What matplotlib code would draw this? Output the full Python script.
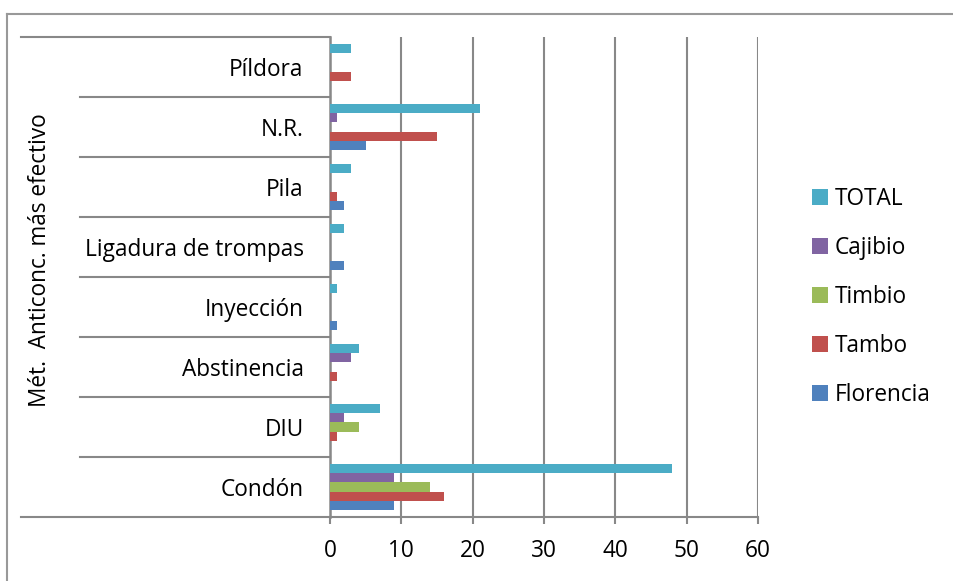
import matplotlib
matplotlib.use("Agg")
import matplotlib.pyplot as plt
import matplotlib.transforms as mtransforms
from matplotlib.lines import Line2D
from matplotlib.patches import Patch
import numpy as np

categories = ["Condón", "DIU", "Abstinencia", "Inyección",
              "Ligadura de trompas", "Pila", "N.R.", "Píldora"]
series_names = ["Florencia", "Tambo", "Timbio", "Cajibio", "TOTAL"]
florencia = [9, 0, 0, 1, 2, 2, 5, 0]
tambo = [16, 1, 1, 0, 0, 1, 15, 3]
timbio = [14, 4, 0, 0, 0, 0, 0, 0]
cajibio = [9, 2, 3, 0, 0, 0, 1, 0]
total = [48, 7, 4, 1, 2, 3, 21, 3]
x_ticks = [0, 10, 20, 30, 40, 50, 60]
axis_title = "Mét.  Anticonc. más efectivo"

colors = ["#4F81BD", "#C0504D", "#9BBB59", "#8064A2", "#4BACC6"]
series = [florencia, tambo, timbio, cajibio, total]

plt.rcParams['font.family'] = ['Open Sans', 'DejaVu Sans']
FS = 16.3
W, H = 954, 581
fig = plt.figure(figsize=(W / 100, H / 100), dpi=100)
ax = fig.add_axes([330 / W, 1 - 517 / H, (758 - 330) / W, (517 - 37) / H])

y = np.arange(len(categories))
bh = 0.155
for i, (vals, c) in enumerate(zip(series, colors)):
    ax.barh(y + (i - 2) * bh, vals, height=bh, color=c, edgecolor='none', zorder=3)

ax.set_xlim(0, 60)
ax.set_ylim(-0.5, len(categories) - 0.5)
ax.set_xticks(x_ticks)
ax.set_xticklabels([str(t) for t in x_ticks], fontsize=FS)
ax.set_yticks(y)
ax.set_yticklabels(categories, fontsize=FS)
ax.tick_params(axis='y', length=0, pad=19)
ax.tick_params(axis='x', length=5, width=1.5, color='#888888', pad=11, direction='out')

grid_c = '#888888'
ax.grid(axis='x', color=grid_c, linewidth=1.5, zorder=0)
ax.grid(axis='y', visible=False)
for s in ['top', 'right']:
    ax.spines[s].set_visible(False)
ax.spines['left'].set_color(grid_c)
ax.spines['left'].set_linewidth(1.8)
ax.spines['bottom'].set_color(grid_c)
ax.spines['bottom'].set_linewidth(1.5)

# multi-level category separators
trans = mtransforms.blended_transform_factory(fig.transFigure, ax.transData)
bounds = np.arange(len(categories) + 1) - 0.5
for b in bounds:
    x0 = 21 / W if b in (bounds[0], bounds[-1]) else 80 / W
    fig.add_artist(Line2D([x0, 330 / W], [b, b], transform=trans,
                          color=grid_c, linewidth=1.5))

fig.text(40 / W, 1 - 260 / H, axis_title, rotation=90, ha='center', va='center',
         fontsize=FS)

# page border
fig.add_artist(Line2D([7 / W, 7 / W], [0, 1 - 14 / H], transform=fig.transFigure,
                      color='#999999', linewidth=1.5))
fig.add_artist(Line2D([7 / W, 1], [1 - 14 / H, 1 - 14 / H], transform=fig.transFigure,
                      color='#999999', linewidth=1.5))

handles = [Patch(facecolor=c, edgecolor='none') for c in colors][::-1]
labels = series_names[::-1]
fig.legend(handles, labels, loc='center left', bbox_to_anchor=(812 / W, 1 - 297 / H),
           frameon=False, fontsize=FS, borderpad=0, borderaxespad=0,
           handlelength=0.72, handleheight=0.72, handletextpad=0.3, labelspacing=1.1)

fig.savefig("out.png", dpi=100)
